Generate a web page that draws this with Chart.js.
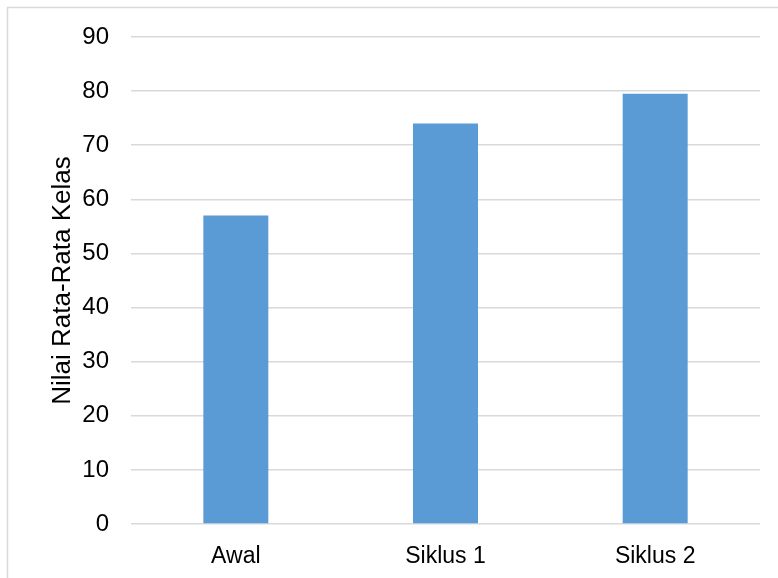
<!DOCTYPE html>
<html>
<head>
<meta charset="utf-8">
<script src="https://cdn.jsdelivr.net/npm/chart.js@4/dist/chart.umd.min.js"></script>
<style>
  html, body { margin: 0; padding: 0; background: #fff; overflow: hidden; }
  #wrap { position: relative; width: 778px; height: 578px; }
</style>
</head>
<body>
<div id="wrap"><canvas id="chart" width="778" height="578"></canvas></div>
<script>
const categories = ['Awal', 'Siklus 1', 'Siklus 2'];
const averageScores = [57, 74, 79.5];
const yTicks = [0, 10, 20, 30, 40, 50, 60, 70, 80, 90];
const yTitle = 'Nilai Rata-Rata Kelas';

const gridColor = '#d9d9d9';
const barColor = '#5b9bd5';
const textColor = '#000000';
const fontFamily = '"Liberation Sans", Arial, sans-serif';

// frame of the chart object, cut off at the right and bottom edges
const framePlugin = {
  id: 'frame',
  beforeDraw(chart) {
    const { ctx } = chart;
    ctx.save();
    ctx.strokeStyle = gridColor;
    ctx.lineWidth = 1.5;
    ctx.strokeRect(7.5, 7.5, 820, 620);
    ctx.restore();
  },
};

const ctx = document.getElementById('chart').getContext('2d');
new Chart(ctx, {
  type: 'bar',
  data: {
    labels: categories,
    datasets: [
      {
        data: averageScores,
        backgroundColor: barColor,
        borderWidth: 0,
        categoryPercentage: 1,
        barPercentage: 0.31,
      },
    ],
  },
  options: {
    responsive: false,
    animation: false,
    layout: {
      padding: { top: 37, right: 18, bottom: 0, left: 0 },
    },
    plugins: {
      legend: { display: false },
      tooltip: { enabled: false },
    },
    scales: {
      x: {
        grid: { display: false },
        border: { display: false },
        ticks: {
          color: textColor,
          font: { family: fontFamily, size: 23 },
          padding: 11,
          maxRotation: 0,
        },
        afterFit(scale) {
          scale.height = 54;
        },
      },
      y: {
        min: 0,
        max: 90,
        afterBuildTicks(scale) {
          scale.ticks = yTicks.map((v) => ({ value: v }));
        },
        grid: {
          color: gridColor,
          lineWidth: 1.5,
          drawTicks: false,
        },
        border: { display: false },
        ticks: {
          color: textColor,
          font: { family: fontFamily, size: 24 },
          padding: 22,
        },
        title: {
          display: true,
          text: yTitle,
          color: textColor,
          font: { family: fontFamily, size: 26 },
          padding: { top: 47, bottom: 0 },
        },
        afterFit(scale) {
          scale.width = 131;
        },
      },
    },
  },
  plugins: [framePlugin],
});
</script>
</body>
</html>
